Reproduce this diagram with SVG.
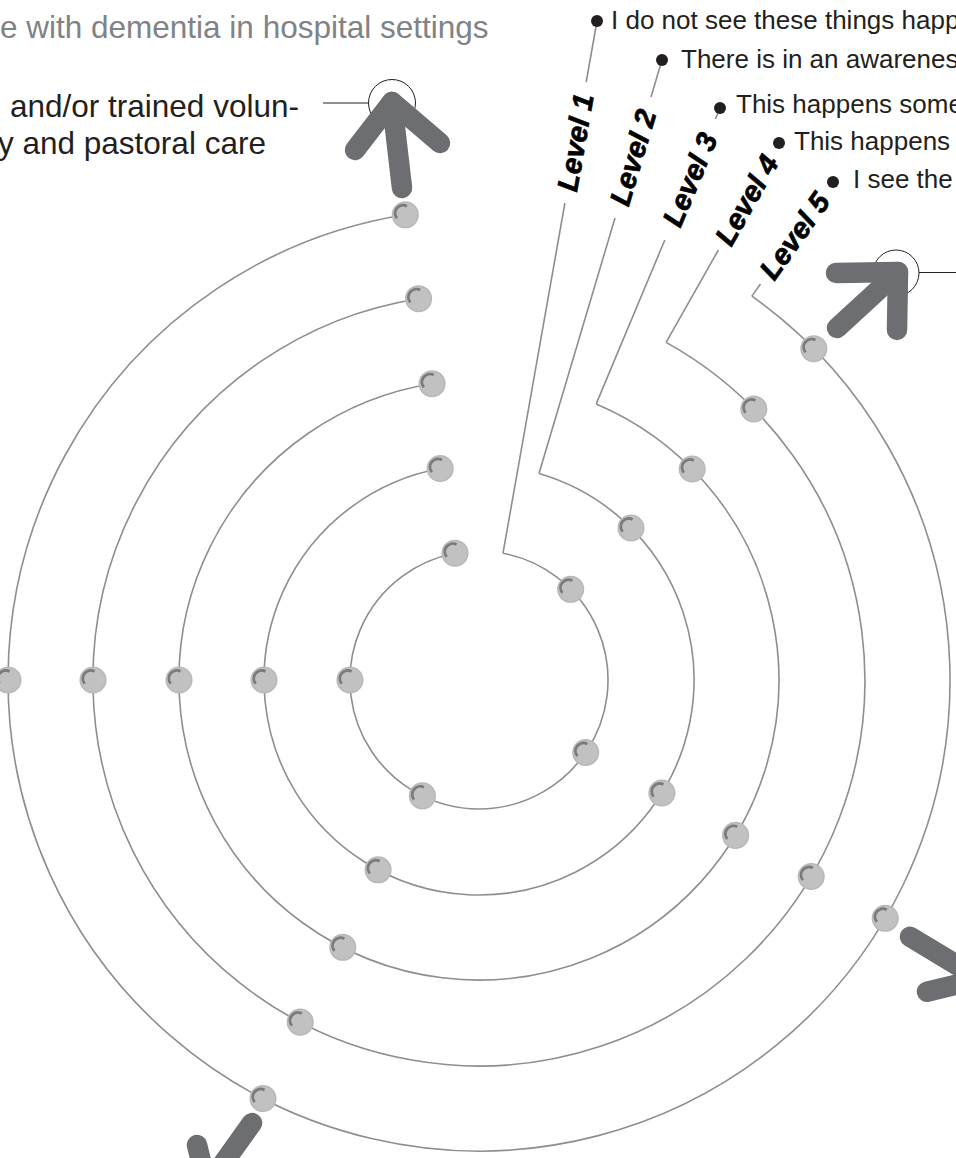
<svg xmlns="http://www.w3.org/2000/svg" xmlns:xlink="http://www.w3.org/1999/xlink" width="956" height="1158" viewBox="0 0 956 1158">
<style>
.ring{fill:none;stroke:#8e8e8e;stroke-width:1.6}
.lead{fill:none;stroke:#8e8e8e;stroke-width:1.6}
.thin{fill:none;stroke:#231f20;stroke-width:1}
.arrow{fill:none;stroke:#6d6e71;stroke-width:20.5;stroke-linecap:round;stroke-linejoin:round}
.lvl{font-family:"Liberation Sans",Arial,sans-serif;font-weight:bold;font-style:italic;font-size:29px;fill:#000;stroke:#000;stroke-width:0.7;text-anchor:middle}
.desc{font-family:"Liberation Sans",Arial,sans-serif;font-size:26px;fill:#231f20}
.big{font-family:"Liberation Sans",Arial,sans-serif;font-size:31.5px;fill:#231f20}
.title{font-family:"Liberation Sans",Arial,sans-serif;font-size:31.5px;fill:#808285}
</style>
<defs>
<g id="dot"><circle r="12.8" fill="#c1c1c1" stroke="#b8b8b8" stroke-width="1.5"/><path d="M1.6 -8.6 A8 8 0 0 0 -8.3 3.6" fill="none" stroke="#7a7a7a" stroke-width="2.8"/></g>
</defs>
<rect width="956" height="1158" fill="#fff"/>
<g id="texts">
<text class="title" x="0" y="38">e with dementia in hospital settings</text>
<text class="big" x="10" y="117">and/or trained volun-</text>
<text class="big" x="-2" y="154">y and pastoral care</text>
</g>
<g id="connectors">
<path class="ring" d="M503 553.2 A129 129 0 1 1 455 553.2"/>
<path class="ring" d="M539 473.5 A215 215 0 1 1 440.2 468.5"/>
<path class="ring" d="M596.2 403.9 A300 300 0 1 1 432.1 383.7"/>
<path class="ring" d="M666.1 342.4 A386 386 0 1 1 418.6 298.7"/>
<path class="ring" d="M751.9 296.1 A471 471 0 1 1 405.3 214.8"/>
<line class="lead" x1="597" y1="21" x2="586.2" y2="82"/>
<line class="lead" x1="564.9" y1="203" x2="503" y2="553.2"/>
<line class="lead" x1="662" y1="60" x2="651" y2="97"/>
<line class="lead" x1="615" y1="218" x2="539" y2="473.5"/>
<line class="lead" x1="720" y1="108" x2="715.4" y2="119"/>
<line class="lead" x1="664.8" y1="240" x2="596.2" y2="403.9"/>
<line class="lead" x1="718.4" y1="250" x2="666.1" y2="342.4"/>
<line class="lead" x1="760.5" y1="284" x2="751.9" y2="296.1"/>
<line class="thin" x1="323" y1="103" x2="368.5" y2="103"/>
<line class="thin" x1="919" y1="272.5" x2="956" y2="272.5"/>
</g>
<g id="level1">
<circle cx="597" cy="21" r="6" fill="#231f20"/>
<text class="desc" x="611" y="29">I do not see these things happ</text>
<text class="lvl" transform="translate(575.5 142.5) rotate(-80)" x="0" y="10">Level 1</text>
</g>
<g id="level2">
<circle cx="662" cy="60" r="6" fill="#231f20"/>
<text class="desc" x="681" y="68">There is in an awarenes</text>
<text class="lvl" transform="translate(633 157.5) rotate(-73.4)" x="0" y="10">Level 2</text>
</g>
<g id="level3">
<circle cx="720" cy="108" r="6" fill="#231f20"/>
<text class="desc" x="736" y="113">This happens some</text>
<text class="lvl" transform="translate(690.1 179.5) rotate(-67.3)" x="0" y="10">Level 3</text>
</g>
<g id="level4">
<circle cx="779" cy="143" r="6" fill="#231f20"/>
<text class="desc" x="794" y="150">This happens</text>
<text class="lvl" transform="translate(746.7 200) rotate(-60.5)" x="0" y="10">Level 4</text>
</g>
<g id="level5">
<circle cx="833" cy="182" r="6" fill="#231f20"/>
<text class="desc" x="853" y="188">I see the</text>
<text class="lvl" transform="translate(794.6 236) rotate(-54.6)" x="0" y="10">Level 5</text>
</g>
<g id="dots">
<use xlink:href="#dot" x="455" y="553.2"/>
<use xlink:href="#dot" x="570.7" y="589.3"/>
<use xlink:href="#dot" x="585.7" y="752.5"/>
<use xlink:href="#dot" x="422.4" y="795.9"/>
<use xlink:href="#dot" x="350" y="680"/>
<use xlink:href="#dot" x="440.2" y="468.5"/>
<use xlink:href="#dot" x="631" y="528"/>
<use xlink:href="#dot" x="661.9" y="793"/>
<use xlink:href="#dot" x="378.1" y="869.8"/>
<use xlink:href="#dot" x="264" y="680"/>
<use xlink:href="#dot" x="432.1" y="383.7"/>
<use xlink:href="#dot" x="692.2" y="469"/>
<use xlink:href="#dot" x="735.6" y="835.4"/>
<use xlink:href="#dot" x="342.8" y="947.3"/>
<use xlink:href="#dot" x="179" y="680"/>
<use xlink:href="#dot" x="418.6" y="298.7"/>
<use xlink:href="#dot" x="753.8" y="409"/>
<use xlink:href="#dot" x="811.2" y="876.5"/>
<use xlink:href="#dot" x="300.2" y="1022.1"/>
<use xlink:href="#dot" x="93" y="680"/>
<use xlink:href="#dot" x="405.3" y="214.8"/>
<use xlink:href="#dot" x="813.8" y="348.7"/>
<use xlink:href="#dot" x="885.2" y="918.3"/>
<use xlink:href="#dot" x="263" y="1098.5"/>
<use xlink:href="#dot" x="8" y="680"/>
</g>
<g id="arrow-top">
<circle class="thin" cx="392" cy="103" r="23.5"/>
<polyline class="arrow" points="355,150 392,102 440,143"/>
<line class="arrow" x1="392" y1="102" x2="402" y2="188"/>
</g>
<g id="arrow-upper-right">
<circle class="thin" cx="896" cy="273" r="23"/>
<polyline class="arrow" points="836,273 898,272 897,330"/>
<line class="arrow" x1="898" y1="272" x2="837" y2="328"/>
</g>
<g id="arrow-right">
<polyline class="arrow" points="910,936.7 980,979 927,991.7"/>
</g>
<g id="arrow-bottom">
<polyline class="arrow" points="197,1145 207,1186 252,1123"/>
</g>
</svg>
